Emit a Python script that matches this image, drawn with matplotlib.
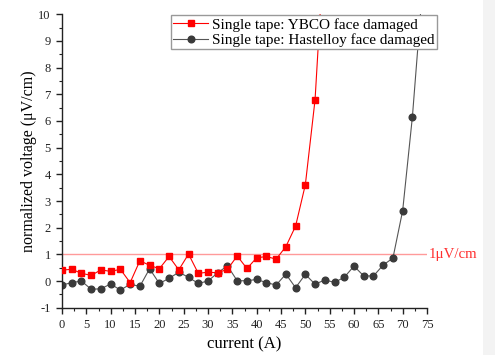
import matplotlib
matplotlib.use("Agg")
import matplotlib.pyplot as plt
from matplotlib.ticker import MultipleLocator
from matplotlib.patches import Rectangle

plt.rcParams['font.family'] = ['Liberation Serif', 'DejaVu Serif']
plt.rcParams['axes.unicode_minus'] = False

ybco_current = [0, 2, 4, 6, 8, 10, 12, 14, 16, 18, 20, 22, 24, 26, 28, 30, 32, 34,
                36, 38, 40, 42, 44, 46, 48, 50, 52, 54]
ybco_voltage = [0.41, 0.44, 0.29, 0.21, 0.42, 0.36, 0.44, -0.06, 0.76, 0.59, 0.46, 0.92,
                0.42, 1.01, 0.29, 0.33, 0.31, 0.44, 0.94, 0.47, 0.87, 0.92, 0.82, 1.29,
                2.06, 3.61, 6.8, 13.0]

hast_current = [0, 2, 4, 6, 8, 10, 12, 14, 16, 18, 20, 22, 24, 26, 28, 30, 32, 34,
                36, 38, 40, 42, 44, 46, 48, 50, 52, 54, 56, 58, 60, 62, 64, 66, 68,
                70, 72, 74]
hast_voltage = [-0.15, -0.06, 0.0, -0.31, -0.29, -0.11, -0.34, -0.12, -0.2, 0.46, -0.09,
                0.1, 0.33, 0.14, -0.09, 0.0, 0.31, 0.57, 0.01, 0.01, 0.06, -0.06, -0.15,
                0.26, -0.25, 0.25, -0.12, 0.04, -0.05, 0.14, 0.56, 0.19, 0.19, 0.6, 0.86,
                2.64, 6.16, 10.8]

threshold = 1.0
labels = ["Single tape: YBCO face damaged", "Single tape: Hastelloy face damaged"]

fig = plt.figure(figsize=(4.95, 3.55), dpi=100)
ax = fig.add_axes([62/495, 1-307.7/355, (427-62)/495, (307.7-14.3)/355])

ax.axhline(threshold, color='#ff9a9a', lw=1.0, zorder=1)
ax.plot(ybco_current, ybco_voltage, color='#ff0000', lw=0.8, marker='s', ms=3.8,
        mfc='#ff0000', mec='#ff0000', label=labels[0], zorder=3)
ax.plot(hast_current, hast_voltage, color='#555555', lw=0.8, marker='o', ms=4.8,
        mfc='#3a3a3a', mec='#3a3a3a', label=labels[1], zorder=2)

ax.text(1.005, (threshold + 1) / 11, '1μV/cm', transform=ax.transAxes, color='#ff3030',
        fontsize=10.7, va='center', ha='left', clip_on=False)

ax.set_xlim(0, 75)
ax.set_ylim(-1, 10)
ax.xaxis.set_major_locator(MultipleLocator(5))
ax.xaxis.set_minor_locator(MultipleLocator(2.5))
ax.yaxis.set_major_locator(MultipleLocator(1))
ax.yaxis.set_minor_locator(MultipleLocator(0.5))
ax.spines['top'].set_visible(False)
ax.spines['right'].set_visible(False)
for s in ('left', 'bottom'):
    ax.spines[s].set_linewidth(1.0)
    ax.spines[s].set_color('#222222')
ax.tick_params(which='major', direction='out', length=4, width=1.0, labelsize=9,
               colors='#222222', pad=4)
ax.tick_params(which='minor', direction='out', length=2.5, width=0.8, colors='#222222')

ax.set_xlabel('current (A)', fontsize=12, labelpad=4)
ax.set_ylabel('normalized voltage (μV/cm)', fontsize=11.5, labelpad=1)

leg = ax.legend(loc='upper left', bbox_to_anchor=(171/495, 1-15.5/355),
                bbox_transform=fig.transFigure, fancybox=False, edgecolor='#999999',
                framealpha=1, fontsize=11, handlelength=2.3, handletextpad=0.25,
                borderpad=0.15, labelspacing=0.1, borderaxespad=0)
leg.get_frame().set_linewidth(1.0)

fig.patches.append(Rectangle((483/495, 0), 12/495, 1, transform=fig.transFigure,
                             facecolor='#f3f3f3', edgecolor='none', zorder=0))

fig.savefig('out.png', dpi=100)
